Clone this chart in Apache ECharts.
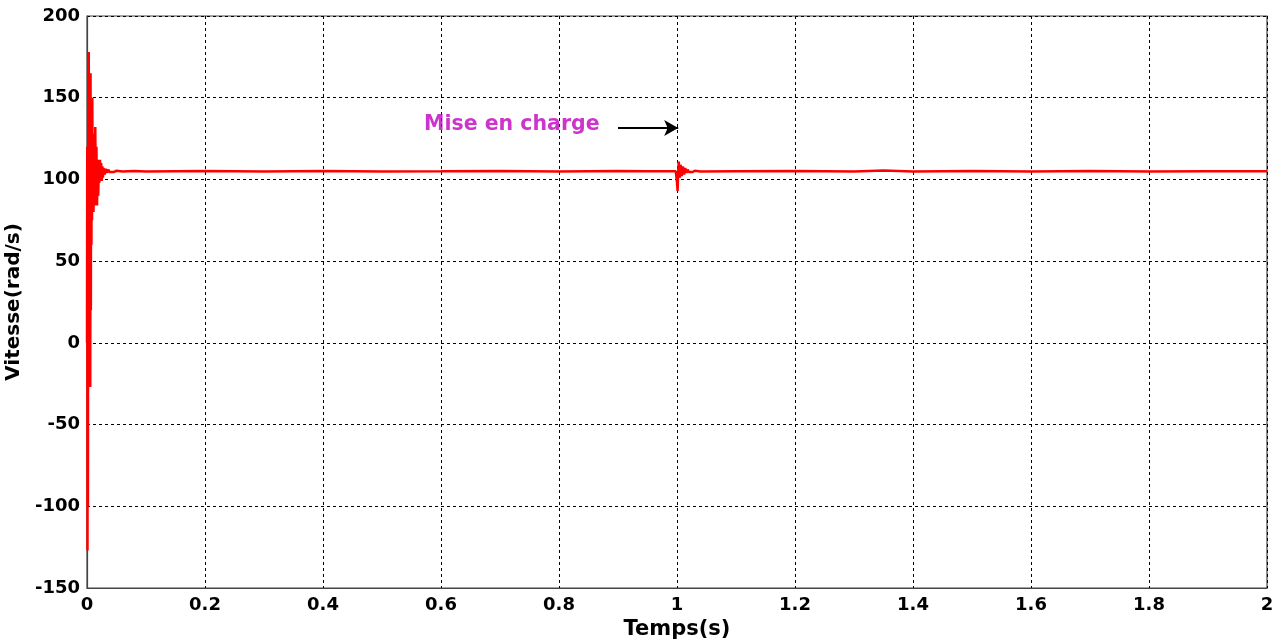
<!DOCTYPE html>
<html>
<head>
<meta charset="utf-8">
<script src="https://cdn.jsdelivr.net/npm/echarts@6/dist/echarts.min.js"></script>
<style>html,body{margin:0;padding:0;background:#fff}#c{width:1286px;height:642px}</style>
</head>
<body>
<div id="c"></div>
<script>
// Time (s) and speed (rad/s) samples
const temps = [
  0, 0.0004, 0.0008, 0.0012, 0.0016, 0.002, 0.0025, 0.003, 0.0035, 0.004, 0.0045,
  0.005, 0.0055, 0.006, 0.0065, 0.007, 0.0075, 0.008, 0.0085, 0.009, 0.0095,
  0.010, 0.011, 0.012, 0.013, 0.014, 0.015, 0.016, 0.017, 0.018, 0.019, 0.020,
  0.021, 0.022, 0.023, 0.024, 0.025, 0.026, 0.027, 0.028, 0.030, 0.032, 0.034,
  0.036, 0.038, 0.040, 0.045, 0.05, 0.06, 0.08, 0.1, 0.2, 0.3, 0.4, 0.5, 0.6,
  0.7, 0.8, 0.9, 0.95, 0.998, 1.0, 1.001, 1.002, 1.003, 1.004, 1.005, 1.006,
  1.008, 1.010, 1.012, 1.014, 1.016, 1.018, 1.020, 1.023, 1.026, 1.03, 1.04,
  1.1, 1.2, 1.3, 1.35, 1.4, 1.5, 1.6, 1.7, 1.8, 1.9, 2.0
];
const vitesse = [
  0, 120, -127, 60, -100, 125, 20, 178, 40, 125, -20,
  140, -27, 165, 20, 150, 60, 132, 75, 150, 85,
  128, 80, 125, 84, 132, 86, 120, 84, 112, 90, 106,
  98, 112, 100, 110, 99, 108, 101, 107, 103, 106.5, 104,
  106, 104.5, 105.5, 104.5, 105.3, 104.8, 105.2, 104.8, 105.2, 104.8, 105.1, 104.9, 105,
  105.2, 104.9, 105.1, 105, 105, 98, 93, 104, 111, 103, 101, 109,
  102, 108, 103, 107, 104, 106, 104.5, 105.7, 104.5, 105.3, 104.8,
  105, 105.2, 104.8, 105.4, 104.9, 105.1, 104.9, 105.2, 104.9, 105, 105
];
const xTicks = { min: 0, max: 2, interval: 0.2 };
const yTicks = { min: -150, max: 200, interval: 50 };
const annotation = 'Mise en charge';

const series = temps.map((t, i) => [t, vitesse[i]]);
const chart = echarts.init(document.getElementById('c'), null, { renderer: 'canvas' });
const font = '"DejaVu Sans", "Liberation Sans", Arial, sans-serif';
chart.setOption({
  animation: false,
  backgroundColor: '#ffffff',
  grid: { left: 87, right: 19, top: 16, bottom: 54, show: true, borderColor: '#444', borderWidth: 1.2,
    containLabel: false, outerBoundsMode: 'none' },
  xAxis: {
    type: 'value', min: xTicks.min, max: xTicks.max, interval: xTicks.interval,
    name: 'Temps(s)', nameLocation: 'middle', nameGap: 29,
    nameTextStyle: { fontFamily: font, fontWeight: 'bold', fontSize: 21, color: '#000' },
    axisLine: { show: true, onZero: false, lineStyle: { color: '#444', width: 1.2 } },
    axisTick: { show: false },
    axisLabel: { fontFamily: font, fontWeight: 'bold', fontSize: 18, color: '#000', margin: 8,
      formatter: v => String(+v.toFixed(1)) },
    splitLine: { show: true, lineStyle: { color: '#000', type: [3, 3], width: 1 } }
  },
  yAxis: {
    type: 'value', min: yTicks.min, max: yTicks.max, interval: yTicks.interval,
    name: 'Vitesse(rad/s)', nameLocation: 'middle', nameGap: 60, nameRotate: 90,
    nameTextStyle: { fontFamily: font, fontWeight: 'bold', fontSize: 20, color: '#000' },
    axisLine: { show: true, onZero: false, lineStyle: { color: '#444', width: 1.2 } },
    axisTick: { show: false },
    axisLabel: { fontFamily: font, fontWeight: 'bold', fontSize: 18, color: '#000', margin: 7 },
    splitLine: { show: true, lineStyle: { color: '#000', type: [3, 3], width: 1 } }
  },
  series: [
    {
      type: 'line', data: series, showSymbol: false, symbol: 'none',
      lineStyle: { color: '#ff0000', width: 2.5 }, z: 3,
      markLine: {
        silent: true, symbol: ['none', 'arrow'], symbolSize: [12, 14],
        lineStyle: { color: '#000', width: 2, type: 'solid' },
        label: { show: false },
        data: [[{ coord: [0.9, 131.5] }, { coord: [1.002, 131.5] }]]
      }
    },
    {
      type: 'scatter', data: [[0.72, 133.5]], symbolSize: 0, silent: true,
      label: { show: true, position: 'inside', formatter: annotation,
        fontFamily: font, fontWeight: 'bold', fontSize: 20.5, color: '#c000c0' }
    }
  ]
});
</script>
</body>
</html>
